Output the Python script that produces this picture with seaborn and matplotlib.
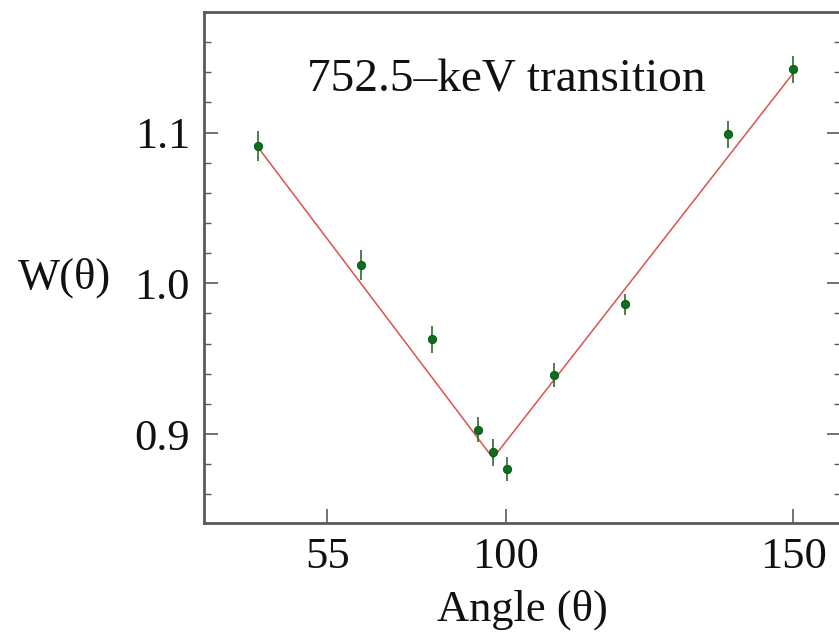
import numpy as np
import pandas as pd
import matplotlib
matplotlib.use("Agg")
import matplotlib.pyplot as plt
import seaborn as sns
from matplotlib.ticker import FixedLocator, MultipleLocator, NullLocator

# Measured angular distribution
angle = [37.6, 63.6, 81.4, 93.1, 96.8, 100.2, 108.4, 120.7, 138.6, 149.9]
w_theta = [1.091, 1.012, 0.963, 0.903, 0.888, 0.877, 0.939, 0.986, 1.099, 1.142]
w_err = [0.010, 0.010, 0.009, 0.008, 0.009, 0.008, 0.008, 0.007, 0.009, 0.009]

# Fitted curve (V-shaped)
fit_angle = [37.6, 96.8, 149.9]
fit_w = [1.090, 0.884, 1.139]

x_ticks = [55, 100, 150]
x_tick_labels = ["55", "100", "150"]
y_ticks = [0.9, 1.0, 1.1]
y_tick_labels = ["0.9", "1.0", "1.1"]

title_text = "752.5\u2013keV transition"
x_label = "Angle (\u03b8)"
y_label = "W(\u03b8)"

sns.set_theme(style="ticks")
plt.rcParams["font.family"] = ["Liberation Serif", "DejaVu Serif"]

df = pd.DataFrame({"angle": angle, "W": w_theta, "err": w_err})
fit_df = pd.DataFrame({"angle": fit_angle, "W": fit_w})

fig = plt.figure(figsize=(8.39, 6.38), dpi=100)
W_px, H_px = 839, 638
left, right, top, bottom = 204, 841, 12, 523
ax = fig.add_axes([left / W_px, 1 - bottom / H_px, (right - left) / W_px, (bottom - top) / H_px])

# Piecewise-linear angle axis (different spacing below and above 100 deg)
lo_rate, hi_rate = 3.956, 5.74


def fwd(t):
    t = np.asarray(t, dtype=float)
    return np.where(t < 100, (t - 100) * lo_rate, (t - 100) * hi_rate)


def inv(u):
    u = np.asarray(u, dtype=float)
    return np.where(u < 0, 100 + u / lo_rate, 100 + u / hi_rate)


ax.set_xscale("function", functions=(fwd, inv))

sns.lineplot(data=fit_df, x="angle", y="W", ax=ax, color="#d9534f",
             linewidth=1.1, sort=False, zorder=2)
ax.errorbar(df["angle"], df["W"], yerr=df["err"], fmt="none",
            ecolor="#2f6b2f", elinewidth=1.2, capsize=0, zorder=3)
sns.scatterplot(data=df, x="angle", y="W", ax=ax, color="#0d6e1b",
                s=36, edgecolor="#0a5214", linewidth=0.6, zorder=4)

ax.set_xlim(23.9, 158.3)
ax.set_ylim(0.841, 1.180)

ax.xaxis.set_major_locator(FixedLocator(x_ticks))
ax.set_xticklabels(x_tick_labels)
ax.xaxis.set_minor_locator(NullLocator())
ax.yaxis.set_major_locator(FixedLocator(y_ticks))
ax.set_yticklabels(y_tick_labels)
ax.yaxis.set_minor_locator(MultipleLocator(0.02))

spine_col = "#5a5a5a"
for s in ax.spines.values():
    s.set_color(spine_col)
    s.set_linewidth(2.0)
ax.tick_params(axis="both", which="major", direction="in", length=10,
               width=1.2, color=spine_col, labelsize=32, pad=10,
               right=True, top=False)
ax.tick_params(axis="y", which="minor", direction="in", length=5,
               width=1.0, color=spine_col, right=True)
for lab in ax.get_xticklabels() + ax.get_yticklabels():
    lab.set_color("#111111")

ax.set_xlabel(x_label, fontsize=32, color="#111111", labelpad=9)
ax.set_ylabel("")
fig.text(65 / W_px, 1 - 278 / H_px, y_label, fontsize=32, color="#111111",
         ha="center", va="center")
ax.text(0.474, 0.866, title_text, transform=ax.transAxes, fontsize=34,
        color="#111111", ha="center", va="center")

ax.set_facecolor("white")
fig.patch.set_facecolor("white")
fig.savefig("out.png", dpi=100)
